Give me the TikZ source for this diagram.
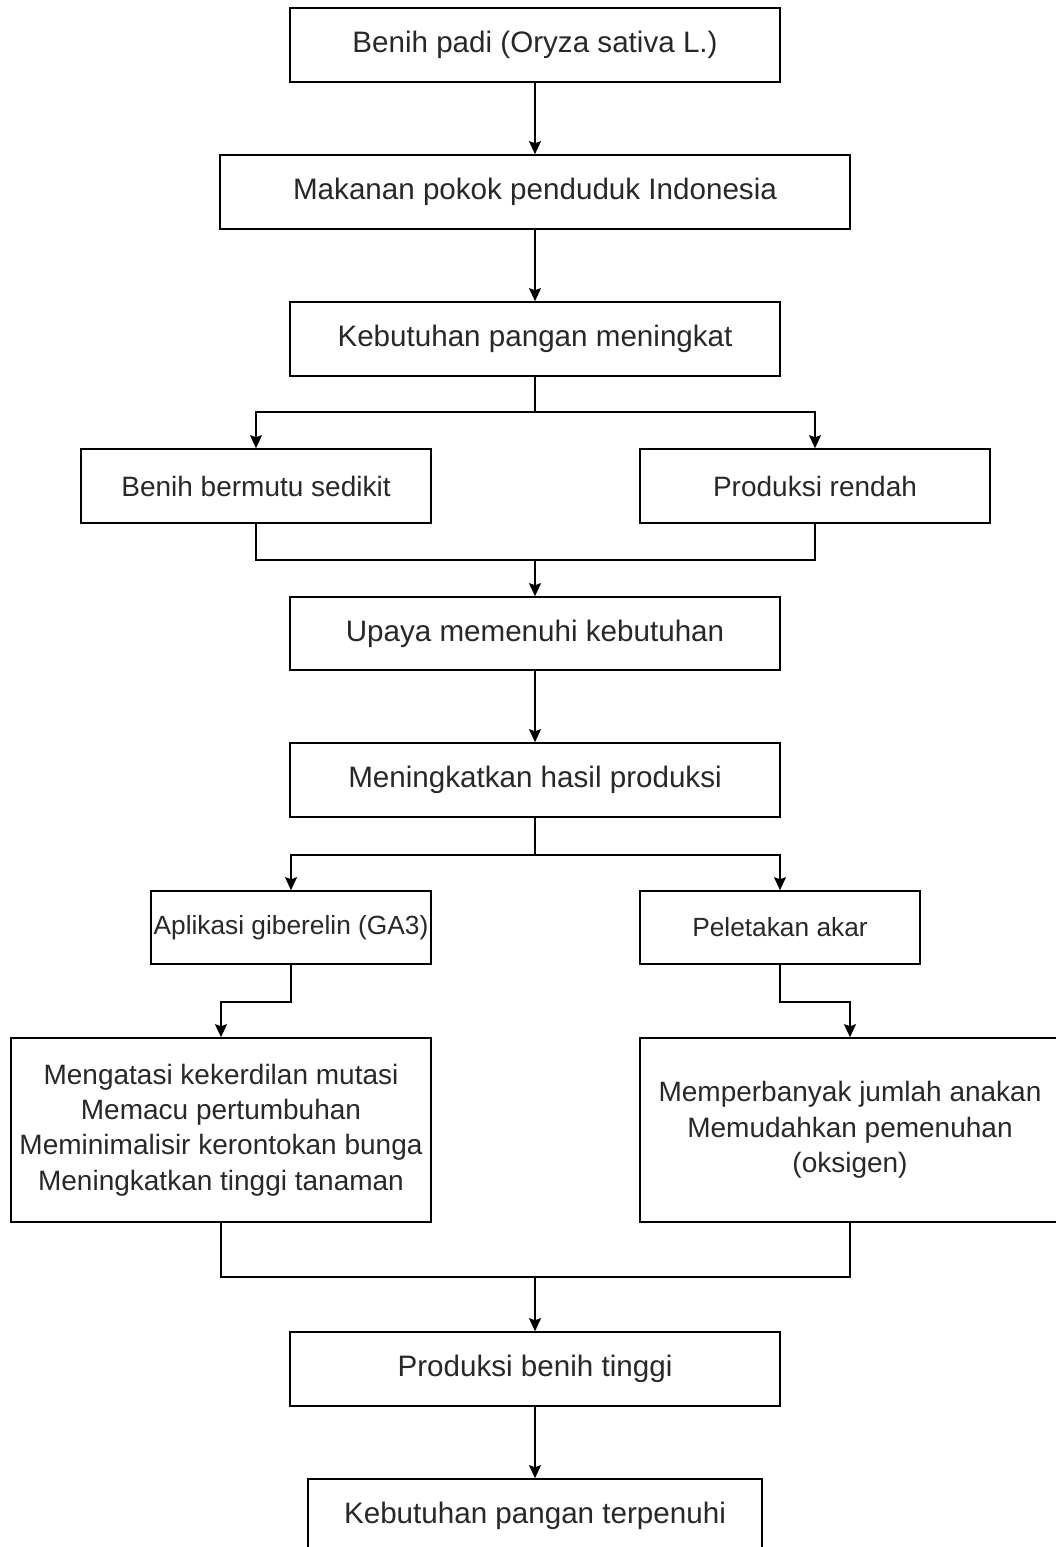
\documentclass[tikz,border=0pt]{standalone}
\usepackage{fontspec}
\setmainfont{Liberation Sans}
\usetikzlibrary{arrows.meta}
\definecolor{txt}{RGB}{40,40,40}
\begin{document}
\begin{tikzpicture}[x=1pt,y=-1pt,
  box/.style={draw=black, line width=1.6pt, fill=white, align=center, inner sep=0pt,
    text=txt, font=\fontsize{29.6}{35.5}\selectfont},
  midtext/.style={font=\fontsize{28}{35.3}\selectfont},
  smalltext/.style={font=\fontsize{26.3}{32}\selectfont},
  conn/.style={draw=black, line width=1.6pt},
  arr/.style={conn, -{Stealth[length=13pt,width=12pt,inset=2pt]}}]
\useasboundingbox (0,0) rectangle (1056,1547);
\clip (0,0) rectangle (1056,1547);
\fill[white] (0,0) rectangle (1056,1547);

\node[box, minimum width=490pt, minimum height=74pt] (b1) at (535,45) {Benih padi (Oryza sativa L.)};
\node[box, minimum width=630pt, minimum height=74pt] (b2) at (535,192) {Makanan pokok penduduk Indonesia};
\node[box, minimum width=490pt, minimum height=74pt] (b3) at (535,339) {Kebutuhan pangan meningkat};
\node[box, midtext, minimum width=350pt, minimum height=74pt] (b4) at (256,486) {Benih bermutu sedikit};
\node[box, midtext, minimum width=350pt, minimum height=74pt] (b5) at (815,486) {Produksi rendah};
\node[box, minimum width=490pt, minimum height=73pt] (b6) at (535,633.5) {Upaya memenuhi kebutuhan};
\node[box, minimum width=490pt, minimum height=74pt] (b7) at (535,780) {Meningkatkan hasil produksi};
\node[box, smalltext, minimum width=280pt, minimum height=73pt] (b8) at (291,927.5) {Aplikasi giberelin (GA3)};
\node[box, smalltext, minimum width=280pt, minimum height=73pt] (b9) at (780,927.5) {Peletakan akar};
\node[box, midtext, minimum width=420pt, minimum height=184pt] (b10) at (221,1130) {Mengatasi kekerdilan mutasi\\Memacu pertumbuhan\\Meminimalisir kerontokan bunga\\Meningkatkan tinggi tanaman};
\node[box, midtext, minimum width=420pt, minimum height=184pt] (b11) at (850,1130) {Memperbanyak jumlah anakan\\Memudahkan pemenuhan\\(oksigen)};
\node[box, minimum width=490pt, minimum height=74pt] (b12) at (535,1369) {Produksi benih tinggi};
\node[box, minimum width=454pt, minimum height=74pt] (b13) at (535,1516) {Kebutuhan pangan terpenuhi};

\draw[arr] (b1.south) -- (b2.north);
\draw[arr] (b2.south) -- (b3.north);

\coordinate (s1) at (535,412);
\draw[conn] (b3.south) -- (s1);
\draw[arr] (s1) -| (b4.north);
\draw[arr] (s1) -| (b5.north);

\coordinate (m1) at (535,560);
\draw[conn] (b4.south) |- (m1) -| (b5.south);
\draw[arr] (m1) -- (b6.north);

\draw[arr] (b6.south) -- (b7.north);

\coordinate (s2) at (535,855);
\draw[conn] (b7.south) -- (s2);
\draw[arr] (s2) -| (b8.north);
\draw[arr] (s2) -| (b9.north);

\draw[arr] (b8.south) -- ++(0,37) -| (b10.north);
\draw[arr] (b9.south) -- ++(0,37) -| (b11.north);

\coordinate (m2) at (535,1277);
\draw[conn] (b10.south) |- (m2) -| (b11.south);
\draw[arr] (m2) -- (b12.north);

\draw[arr] (b12.south) -- (b13.north);
\end{tikzpicture}
\end{document}
